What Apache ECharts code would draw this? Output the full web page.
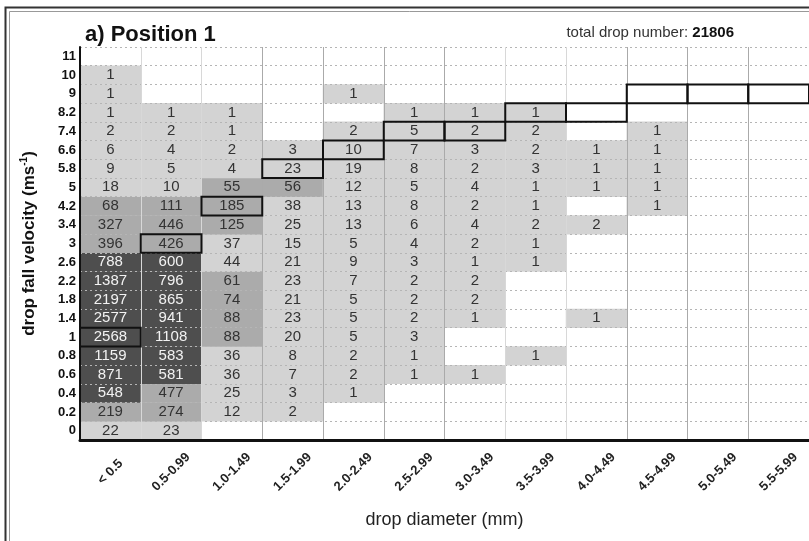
<!DOCTYPE html>
<html>
<head>
<meta charset="utf-8">
<script src="https://cdn.jsdelivr.net/npm/echarts@6/dist/echarts.min.js"></script>
<style>
  html, body { margin: 0; padding: 0; background: #fff; }
  #main { width: 809px; height: 541px; }
</style>
</head>
<body>
<div id="main"></div>
<script>
// drop diameter classes (mm)
const diameters = ["< 0.5", "0.5-0.99", "1.0-1.49", "1.5-1.99", "2.0-2.49", "2.5-2.99",
  "3.0-3.49", "3.5-3.99", "4.0-4.49", "4.5-4.99", "5.0-5.49", "5.5-5.99"];
// fall velocity classes (m/s), bottom to top
const velocities = ["0", "0.2", "0.4", "0.6", "0.8", "1", "1.4", "1.8", "2.2", "2.6", "3",
  "3.4", "4.2", "5", "5.8", "6.6", "7.4", "8.2", "9", "10", "11"];
// drop counts, one row per velocity class, one entry per diameter class
const counts = [
  [22, 23],
  [219, 274, 12, 2],
  [548, 477, 25, 3, 1],
  [871, 581, 36, 7, 2, 1, 1],
  [1159, 583, 36, 8, 2, 1, null, 1],
  [2568, 1108, 88, 20, 5, 3],
  [2577, 941, 88, 23, 5, 2, 1, null, 1],
  [2197, 865, 74, 21, 5, 2, 2],
  [1387, 796, 61, 23, 7, 2, 2],
  [788, 600, 44, 21, 9, 3, 1, 1],
  [396, 426, 37, 15, 5, 4, 2, 1],
  [327, 446, 125, 25, 13, 6, 4, 2, 2],
  [68, 111, 185, 38, 13, 8, 2, 1, null, 1],
  [18, 10, 55, 56, 12, 5, 4, 1, 1, 1],
  [9, 5, 4, 23, 19, 8, 2, 3, 1, 1],
  [6, 4, 2, 3, 10, 7, 3, 2, 1, 1],
  [2, 2, 1, null, 2, 5, 2, 2, null, 1],
  [1, 1, 1, null, null, 1, 1, 1],
  [1, null, null, null, 1],
  [1],
  []
];
// outlined cells (terminal velocity step): [diameter index, velocity label]
const outlined = [[0, "1"], [1, "3"], [2, "4.2"], [3, "5.8"], [4, "6.6"], [5, "7.4"],
  [6, "7.4"], [7, "8.2"], [8, "8.2"], [9, "9"], [10, "9"], [11, "9"]];
const totalDrops = 21806;

const font = "Liberation Sans, Arial, Helvetica, sans-serif";

const cells = [];
counts.forEach(function (row, yi) {
  row.forEach(function (v, xi) {
    if (v == null) return;
    cells.push({
      value: [xi, yi, v],
      label: { color: v >= 500 ? "#f2f2f2" : "#333" }
    });
  });
});
const boxes = outlined.map(function (b) {
  return [b[0], velocities.indexOf(b[1])];
});

const chart = echarts.init(document.getElementById("main"));
chart.setOption({
  animation: false,
  textStyle: { fontFamily: font },
  title: [
    {
      text: "a) Position 1",
      left: 80,
      top: 19,
      textStyle: { fontSize: 22, fontWeight: "bold", color: "#111", fontFamily: font }
    },
    {
      text: "{a|total drop number: }{b|" + totalDrops + "}",
      right: 70,
      top: 20,
      textStyle: {
        fontFamily: font,
        fontWeight: "normal",
        rich: {
          a: { fontSize: 15, color: "#333", fontWeight: "normal", fontFamily: font },
          b: { fontSize: 15, color: "#111", fontWeight: "bold", fontFamily: font }
        }
      }
    }
  ],
  graphic: [
    {
      type: "rect",
      silent: true,
      shape: { x: 5.5, y: 7.5, width: 840, height: 580 },
      style: { fill: "none", stroke: "#333", lineWidth: 2 }
    },
    {
      type: "rect",
      silent: true,
      shape: { x: 9.5, y: 11.5, width: 840, height: 580 },
      style: { fill: "none", stroke: "#999", lineWidth: 1 }
    }
  ],
  grid: { left: 80, top: 47, right: 0, bottom: 101 },
  visualMap: {
    type: "piecewise",
    show: false,
    seriesIndex: 0,
    dimension: 2,
    pieces: [
      { lt: 50, color: "#d3d3d3" },
      { gte: 50, lt: 500, color: "#ababab" },
      { gte: 500, color: "#4e4e4e" }
    ]
  },
  xAxis: {
    type: "category",
    data: diameters,
    z: 3,
    name: "drop diameter (mm)",
    nameLocation: "middle",
    nameGap: 71,
    nameTextStyle: { fontSize: 18, color: "#222", fontFamily: font },
    axisLine: { lineStyle: { color: "#111", width: 3 } },
    axisTick: { show: false },
    axisLabel: {
      rotate: 45,
      interval: 0,
      margin: 32,
      align: "center",
      verticalAlign: "middle",
      fontSize: 13,
      fontWeight: "bold",
      color: "#222",
      fontFamily: font
    },
    splitLine: {
      show: true,
      interval: 0,
      lineStyle: {
        width: 1,
        color: ["#999", "#d8d8d8", "#d8d8d8", "#aaa", "#aaa", "#aaa", "#aaa",
          "#d8d8d8", "#d8d8d8", "#aaa", "#aaa", "#aaa", "#aaa"]
      }
    }
  },
  yAxis: {
    type: "category",
    data: velocities,
    z: 3,
    name: "drop fall velocity (ms{sup|-1})",
    nameLocation: "middle",
    nameRotate: 90,
    nameGap: 41,
    nameTextStyle: {
      fontSize: 17,
      fontWeight: "bold",
      color: "#111",
      fontFamily: font,
      lineHeight: 20,
      rich: {
        sup: { fontSize: 10, fontWeight: "bold", verticalAlign: "top", lineHeight: 20, color: "#111", fontFamily: font }
      }
    },
    axisLine: { lineStyle: { color: "#111", width: 2 } },
    axisTick: { show: false },
    axisLabel: {
      interval: 0,
      margin: 4,
      fontSize: 13,
      fontWeight: "bold",
      color: "#111",
      fontFamily: font
    },
    splitLine: {
      show: true,
      interval: 0,
      lineStyle: { color: "#b5b5b5", type: [2, 3], width: 1 }
    }
  },
  series: [
    {
      type: "heatmap",
      data: cells,
      z: 2,
      label: { show: true, fontSize: 15, fontFamily: font },
      itemStyle: { borderWidth: 0 }
    },
    {
      type: "custom",
      z: 5,
      data: boxes,
      encode: { x: 0, y: 1 },
      renderItem: function (params, api) {
        const p = api.coord([api.value(0), api.value(1)]);
        const s = api.size([1, 1]);
        return {
          type: "rect",
          shape: { x: p[0] - s[0] / 2, y: p[1] - s[1] / 2, width: s[0], height: s[1] },
          style: { fill: "none", stroke: "#111", lineWidth: 2 }
        };
      }
    }
  ]
});
</script>
</body>
</html>
